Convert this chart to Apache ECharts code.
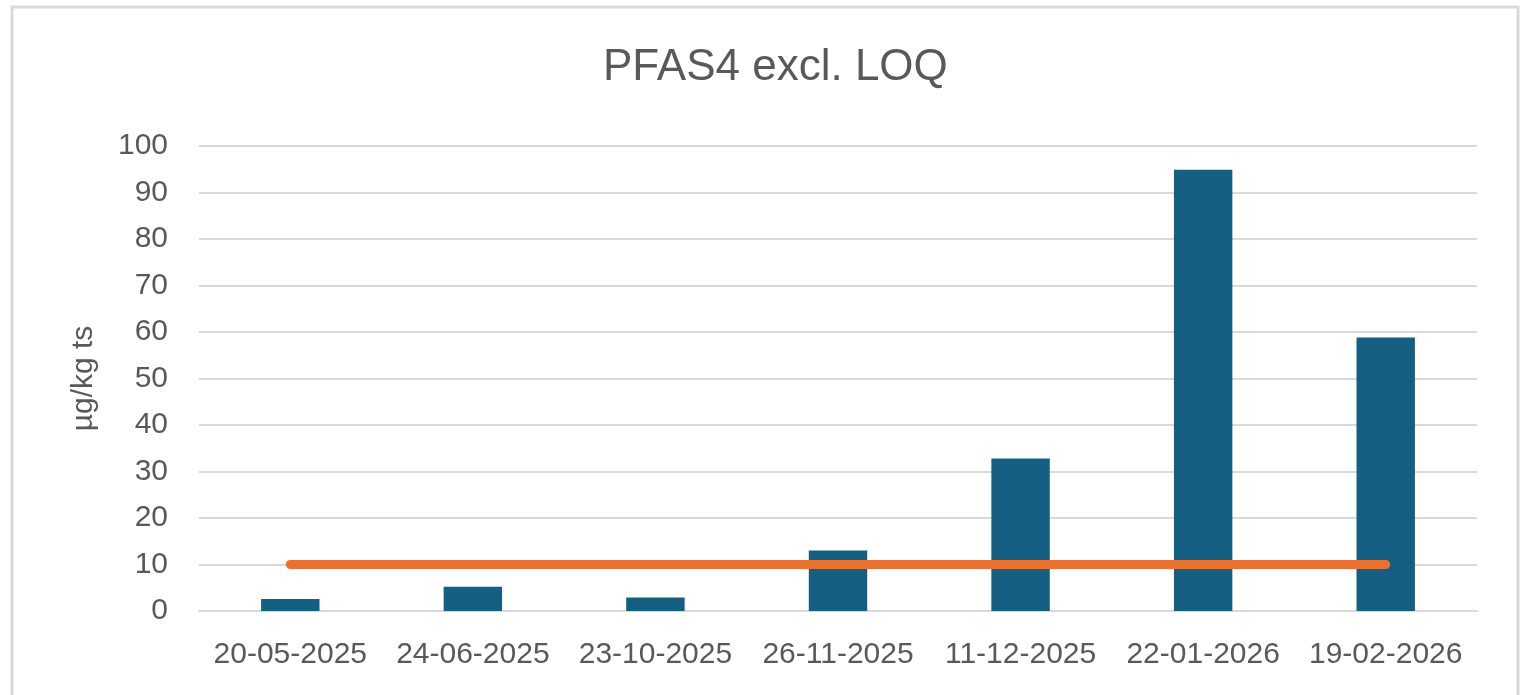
<!DOCTYPE html>
<html>
<head>
<meta charset="utf-8">
<title>PFAS4 excl. LOQ</title>
<script src="https://cdn.jsdelivr.net/npm/echarts@6/dist/echarts.min.js"></script>
<style>
  html, body { margin: 0; padding: 0; background: #fff; }
  #chart { width: 1525px; height: 695px; }
</style>
</head>
<body>
<div id="chart"></div>
<script>
// sampling dates
var categories = ["20-05-2025", "24-06-2025", "23-10-2025", "26-11-2025", "11-12-2025", "22-01-2026", "19-02-2026"];
// PFAS4 excl. LOQ, µg/kg ts
var pfasValues = [2.6, 5.2, 2.9, 13.0, 32.8, 94.9, 58.8];
// limit line
var limitValues = [10, 10, 10, 10, 10, 10, 10];
var yTicks = { min: 0, max: 100, step: 10 };

var textColor = "#595959";
var fontFam = "'Liberation Sans', Arial, sans-serif";

var chart = echarts.init(document.getElementById("chart"));
var option = {
  animation: false,
  backgroundColor: "#ffffff",
  graphic: [
    {
      type: "rect",
      shape: { x: 12, y: 7, width: 1506, height: 740 },
      style: { fill: "none", stroke: "#d9d9d9", lineWidth: 3 },
      silent: true
    }
  ],
  title: {
    text: "PFAS4 excl. LOQ",
    left: 598,
    top: 41,
    textStyle: {
      color: textColor,
      fontSize: 44,
      fontWeight: "normal",
      fontFamily: fontFam
    }
  },
  grid: {
    left: 199,
    right: 48,
    top: 146,
    bottom: 84,
    containLabel: false
  },
  xAxis: {
    type: "category",
    data: categories,
    axisLine: { show: true, lineStyle: { color: "#d9d9d9", width: 2 } },
    axisTick: { show: false },
    axisLabel: {
      color: textColor,
      fontSize: 30,
      fontFamily: fontFam,
      margin: 29,
      interval: 0
    }
  },
  yAxis: {
    type: "value",
    min: yTicks.min,
    max: yTicks.max,
    interval: yTicks.step,
    name: "µg/kg ts",
    nameLocation: "middle",
    nameGap: 100,
    nameTextStyle: {
      color: textColor,
      fontSize: 30,
      fontFamily: fontFam
    },
    axisLine: { show: false },
    axisTick: { show: false },
    axisLabel: {
      color: textColor,
      fontSize: 30,
      fontFamily: fontFam,
      margin: 31
    },
    splitLine: { lineStyle: { color: "#d9d9d9", width: 2 } }
  },
  series: [
    {
      name: "PFAS4 excl. LOQ",
      type: "bar",
      data: pfasValues,
      barWidth: "32%",
      itemStyle: { color: "#156082" }
    },
    {
      name: "LOQ",
      type: "line",
      data: limitValues,
      symbol: "none",
      lineStyle: { color: "#E97132", width: 9, cap: "round" },
      z: 3
    }
  ]
};
chart.setOption(option);
</script>
</body>
</html>
